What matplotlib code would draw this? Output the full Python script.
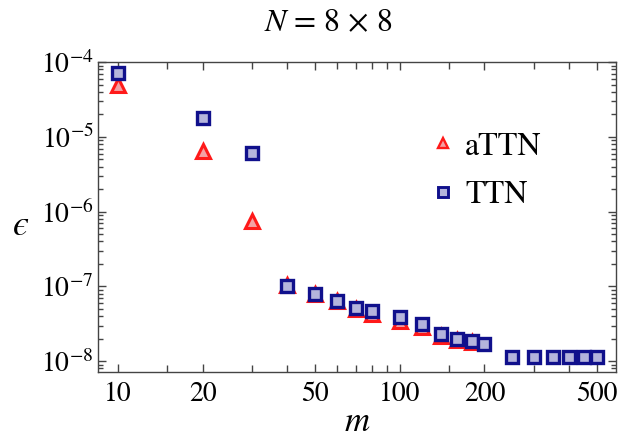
import matplotlib
matplotlib.use("Agg")
import matplotlib.pyplot as plt
from matplotlib.lines import Line2D
from matplotlib.ticker import FixedLocator, FixedFormatter, NullFormatter, LogLocator, LogFormatterMathtext

plt.rcParams['font.family'] = ['STIXGeneral', 'DejaVu Serif']
plt.rcParams['mathtext.fontset'] = 'stix'

# Data
m_ttn = [10, 20, 30, 40, 50, 60, 70, 80, 100, 120, 140, 160, 180, 200,
         250, 300, 350, 400, 450, 500]
eps_ttn = [7.2e-5, 1.81e-5, 6.1e-6, 1.01e-7, 8.0e-8, 6.4e-8, 5.2e-8, 4.7e-8,
           3.85e-8, 3.1e-8, 2.34e-8, 2.01e-8, 1.87e-8, 1.72e-8,
           1.14e-8, 1.14e-8, 1.14e-8, 1.14e-8, 1.14e-8, 1.14e-8]
m_attn = [10, 20, 30, 40, 50, 60, 70, 80, 100, 120, 140, 160, 180]
eps_attn = [4.93e-5, 6.4e-6, 7.45e-7, 1.03e-7, 7.9e-8, 6.3e-8, 5.0e-8, 4.3e-8,
            3.5e-8, 2.9e-8, 2.15e-8, 1.9e-8, 1.8e-8]
major_x = [10, 20, 50, 100, 200, 500]
minor_x = [15, 30, 40, 60, 70, 80, 90, 150, 300, 400]

RED = '#ff1a1a'
PINK = '#f4a0a4'
NAVY = '#10108c'
LAV = '#b4b4dc'

fig = plt.figure(figsize=(6.19, 4.38), dpi=100)
ax = fig.add_axes([0.158, 0.151, 0.837, 0.707])

ax.plot(m_attn, eps_attn, linestyle='none', marker='^', markersize=10.5,
        markerfacecolor=PINK, markeredgecolor=RED, markeredgewidth=2.2, zorder=3)
ax.plot(m_ttn, eps_ttn, linestyle='none', marker='s', markersize=9.3,
        markerfacecolor=LAV, markeredgecolor=NAVY, markeredgewidth=2.4, zorder=4)

ax.set_xscale('log')
ax.set_yscale('log')
ax.set_xlim(8.5, 585)
ax.set_ylim(7.2e-9, 1.0e-4)

ax.xaxis.set_major_locator(FixedLocator(major_x))
ax.xaxis.set_minor_locator(FixedLocator(minor_x))
ax.xaxis.set_major_formatter(FixedFormatter([str(v) for v in major_x]))
ax.xaxis.set_minor_formatter(NullFormatter())
ax.yaxis.set_major_locator(LogLocator(base=10, numticks=10))
ax.yaxis.set_minor_locator(LogLocator(base=10, subs=range(2, 10), numticks=20))
ax.yaxis.set_major_formatter(LogFormatterMathtext())
ax.yaxis.set_minor_formatter(NullFormatter())

ax.tick_params(which='both', direction='in', top=True, right=True,
               labelsize=20, color='#444444', width=1.0)
ax.tick_params(which='major', length=6)
ax.tick_params(which='minor', length=3.5)
ax.tick_params(axis='x', which='minor', length=5)
ax.tick_params(axis='x', which='major', pad=7)
ax.tick_params(axis='y', which='major', pad=3)
for s in ax.spines.values():
    s.set_color('#444444')
    s.set_linewidth(1.0)

ax.set_xlabel('$m$', fontsize=25, labelpad=0)
ax.set_ylabel('$\u03f5$', fontsize=26, rotation=0, va='center')
ax.yaxis.set_label_coords(-0.15, 0.47)
fig.text(328 / 619, 1 - 23 / 438, r'$N$ = 8 × 8', fontsize=23,
         ha='center', va='center')

handles = [
    Line2D([], [], linestyle='none', marker='^', markersize=7.5,
           markerfacecolor=PINK, markeredgecolor=RED, markeredgewidth=1.7),
    Line2D([], [], linestyle='none', marker='s', markersize=7.5,
           markerfacecolor=LAV, markeredgecolor=NAVY, markeredgewidth=2.1),
]
ax.legend(handles, ['aTTN', 'TTN'], loc='upper left', bbox_to_anchor=(0.61, 0.815),
          frameon=False, fontsize=23, handlelength=1.0, handletextpad=0.2,
          labelspacing=0.6, borderaxespad=0)

fig.savefig('out.png', dpi=100)
